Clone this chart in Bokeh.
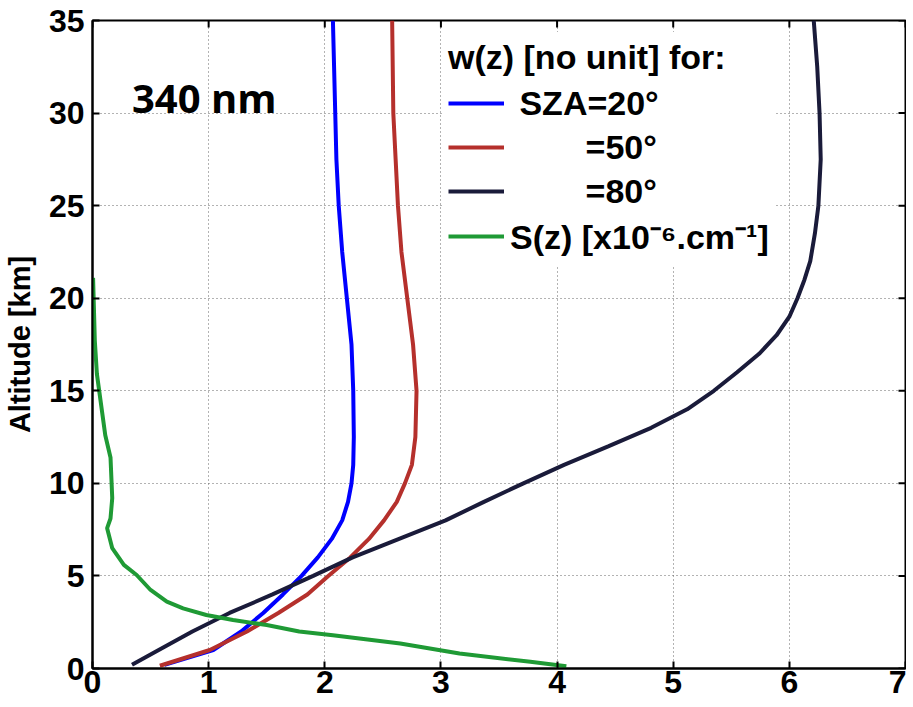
from bokeh.plotting import figure
from bokeh.models import Range1d, FixedTicker, Legend, LegendItem, Label
from bokeh.embed import file_html
from bokeh.resources import INLINE

# ---- data ----
z_sza20 = [0.2, 1, 2, 3, 4, 5, 6, 7, 8, 9, 10, 11, 12.5, 15, 17.5, 20, 22.5, 25, 27.5, 30, 32.5, 35]
w_sza20 = [0.62, 1.04, 1.28, 1.47, 1.64, 1.80, 1.94, 2.06, 2.15, 2.20, 2.23, 2.245, 2.25, 2.245, 2.23, 2.19, 2.15, 2.12, 2.10, 2.09, 2.08, 2.07]

z_sza50 = [0.15, 1, 2, 3, 4, 5, 6, 7, 8, 9, 10, 11, 12.5, 15, 17.5, 20, 22.5, 25, 27.5, 30, 32.5, 35]
w_sza50 = [0.58, 1.01, 1.33, 1.60, 1.85, 2.03, 2.22, 2.38, 2.51, 2.62, 2.69, 2.75, 2.78, 2.79, 2.76, 2.71, 2.66, 2.63, 2.61, 2.59, 2.585, 2.58]

z_sza80 = [0.2, 1, 2, 3, 4, 5, 6, 7, 8, 9, 10, 11, 12, 13, 14, 15, 16, 17, 18, 19, 20, 21, 22, 23.5, 25, 27.5, 30, 32.5, 35]
w_sza80 = [0.34, 0.57, 0.86, 1.18, 1.55, 1.90, 2.24, 2.64, 3.04, 3.37, 3.71, 4.06, 4.44, 4.81, 5.12, 5.35, 5.55, 5.74, 5.89, 6.00, 6.07, 6.13, 6.18, 6.22, 6.25, 6.27, 6.26, 6.24, 6.21]

z_s = [0.12, 0.36, 0.81, 1.35, 1.8, 2.0, 2.35, 2.62, 2.89, 3.25, 3.61, 4.24, 5.05, 5.6, 6.5, 7.58, 8.1, 9.2, 11.4, 12.6, 15.9, 17.7, 21.1]
s_val = [4.08, 3.77, 3.16, 2.65, 2.07, 1.78, 1.50, 1.21, 0.98, 0.78, 0.64, 0.50, 0.38, 0.27, 0.17, 0.126, 0.155, 0.17, 0.155, 0.11, 0.038, 0.02, 0.005]

x_ticks = [0, 1, 2, 3, 4, 5, 6, 7]
y_ticks = [0, 5, 10, 15, 20, 25, 30, 35]

legend_title = "w(z) [no unit] for:"
labels = ["\u00a0SZA=20°", "\u00a0" * 8 + "=50°", "\u00a0" * 8 + "=80°", "S(z) [x10\u207b\u2076.cm\u207b\u00b9]"]
colors = ["#0000ff", "#b5302c", "#1a1b3a", "#1f9a35"]

FONT = "Liberation Sans"
X0, X1, Y0, Y1 = 0, 7, 0, 35
FW, FH = 813, 647

p = figure(width=906, height=698, x_range=Range1d(X0, X1), y_range=Range1d(Y0, Y1),
           output_backend="svg", toolbar_location=None,
           min_border_left=92, min_border_top=20, min_border_right=1, min_border_bottom=30)
p.background_fill_color = "white"
p.border_fill_color = "white"
p.outline_line_color = "black"
p.outline_line_width = 2

for ax, ticks in ((p.xaxis[0], x_ticks), (p.yaxis[0], y_ticks)):
    ax.ticker = FixedTicker(ticks=ticks)
    ax.major_tick_in = 7
    ax.major_tick_out = 0
    ax.minor_tick_in = 0
    ax.minor_tick_out = 0
    ax.axis_line_color = "black"
    ax.axis_line_width = 2
    ax.major_tick_line_color = "black"
    ax.major_tick_line_width = 2
    ax.major_label_text_font = FONT
    ax.major_label_text_font_style = "bold"
    ax.major_label_text_font_size = "32px"
    ax.major_label_text_color = "black"

p.xaxis[0].major_label_standoff = 2
p.yaxis[0].major_label_standoff = 8
p.yaxis[0].axis_label = "Altitude [km]"
p.yaxis[0].axis_label_text_font = FONT
p.yaxis[0].axis_label_text_font_style = "bold"
p.yaxis[0].axis_label_text_font_size = "29px"
p.yaxis[0].axis_label_text_color = "black"
p.yaxis[0].axis_label_standoff = 10

for g in (p.xgrid[0], p.ygrid[0]):
    g.grid_line_color = "#666666"
    g.grid_line_dash = "1 3"
    g.grid_line_width = 1

# inward ticks on the top and right frame edges (7 px long)
tick_dy = 7 * (Y1 - Y0) / FH
tick_dx = 7 * (X1 - X0) / FW
p.segment(x0=x_ticks, y0=[Y1] * len(x_ticks), x1=x_ticks, y1=[Y1 - tick_dy] * len(x_ticks),
          line_color="black", line_width=2)
p.segment(x0=[X1] * len(y_ticks), y0=y_ticks, x1=[X1 - tick_dx] * len(y_ticks), y1=y_ticks,
          line_color="black", line_width=2)

r1 = p.line(w_sza20, z_sza20, line_color=colors[0], line_width=4)
r2 = p.line(w_sza50, z_sza50, line_color=colors[1], line_width=4)
r3 = p.line(w_sza80, z_sza80, line_color=colors[2], line_width=4)
r4 = p.line(s_val, z_s, line_color=colors[3], line_width=4)

legend = Legend(items=[LegendItem(label=labels[0], renderers=[r1]),
                       LegendItem(label=labels[1], renderers=[r2]),
                       LegendItem(label=labels[2], renderers=[r3]),
                       LegendItem(label=labels[3], renderers=[r4])],
                location=(350, 403), title=legend_title)
legend.title_text_font = FONT
legend.title_text_font_style = "bold"
legend.title_text_font_size = "34px"
legend.title_text_color = "black"
legend.title_standoff = 4
legend.label_text_font = FONT
legend.label_text_font_style = "bold"
legend.label_text_font_size = "34px"
legend.label_text_color = "black"
legend.label_standoff = 6
legend.label_height = 44
legend.glyph_height = 44
legend.glyph_width = 56
legend.spacing = 0
legend.padding = 6
legend.margin = 0
legend.border_line_alpha = 0
legend.background_fill_color = "white"
legend.background_fill_alpha = 1
p.add_layout(legend, "center")

p.add_layout(Label(x=0.34, y=30.85, text="340 nm", text_font="Open Sans", text_font_style="bold",
                   text_font_size="40px", text_color="black", text_baseline="alphabetic"))

open("out.html", "w").write(file_html(p, INLINE))
